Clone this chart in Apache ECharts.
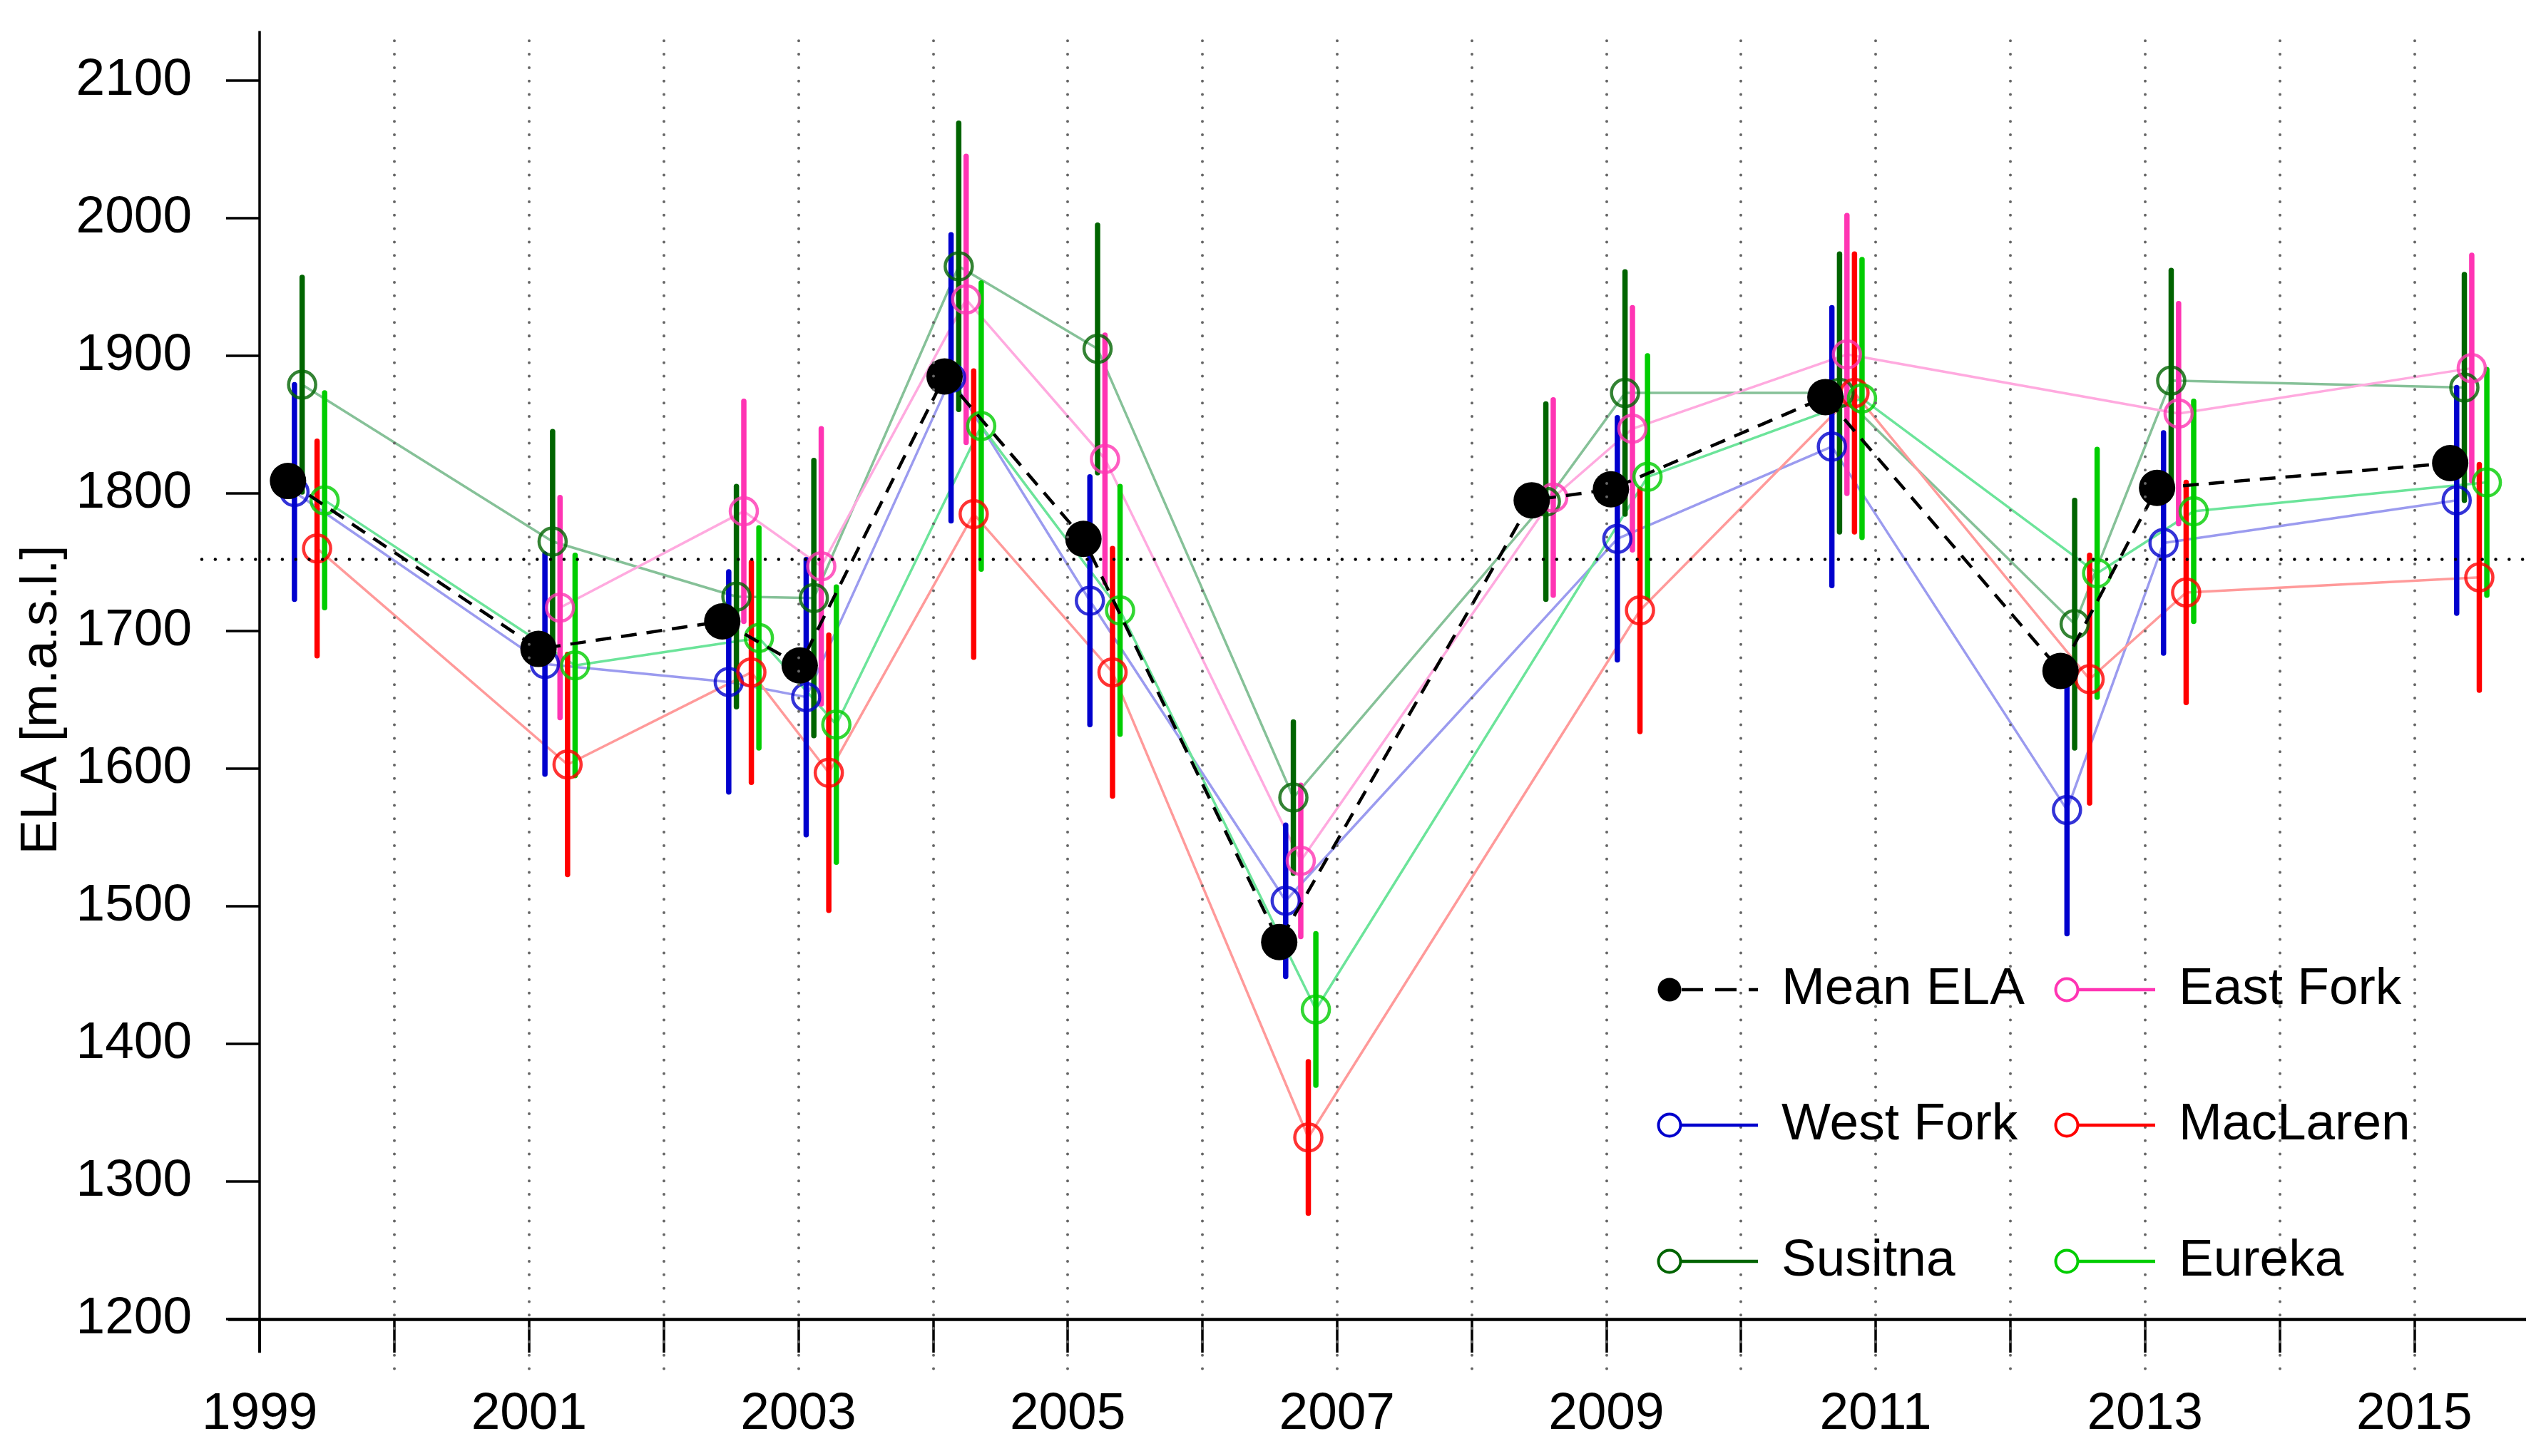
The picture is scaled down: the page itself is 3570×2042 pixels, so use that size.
<!DOCTYPE html>
<html>
<head>
<meta charset="utf-8">
<title>ELA</title>
<script src="https://cdn.jsdelivr.net/npm/echarts@6.0.0/dist/echarts.min.js"></script>
<style>html,body{margin:0;padding:0;background:#fff;}</style>
</head>
<body>
<div id="main" style="width:3570px;height:2042px;"></div>
<script type="text/javascript">
var obsDates = [1999.21, 2001.07, 2002.435, 2003.01, 2004.086, 2005.117, 2006.571,
                2008.446, 2009.034, 2010.627, 2012.373, 2013.09, 2015.267];
var meanEla  = [1809, 1687, 1707, 1675, 1885, 1767, 1474, 1795, 1803, 1870, 1671, 1804, 1822];
var westFork = [1801, 1676, 1663, 1652, 1884, 1722, 1504, null, 1767, 1834, 1570, 1764, 1795];
var susitna  = [1879, 1765, 1725, 1724, 1965, 1905, 1579, 1794, 1873, 1873, 1705, 1882, 1877];
var eastFork = [null, 1717, 1787, 1747, 1941, 1825, 1533, 1797, 1847, 1901, null, 1858, 1891];
var macLaren = [1760, 1603, 1670, 1597, 1785, 1670, 1332, null, 1715, 1873, 1665, 1728, 1739];
var eureka   = [1795, 1675, 1695, 1632, 1849, 1715, 1425, null, 1812, 1869, 1742, 1787, 1808];
// uncertainty (+/-) of each group
var elaErr   = [78, 80, 80, 100, 104, 90, 55, 71, 88, 101, 90, 80, 82];
var refEla = 1752;

var yTicks = [1200, 1300, 1400, 1500, 1600, 1700, 1800, 1900, 2000, 2100];
var xTicks = [1999, 2000, 2001, 2002, 2003, 2004, 2005, 2006, 2007, 2008, 2009, 2010, 2011, 2012, 2013, 2014, 2015];
var xLabels = [1999, 2001, 2003, 2005, 2007, 2009, 2011, 2013, 2015];

var FONT = '"Liberation Sans", Arial, Helvetica, sans-serif';

var glaciers = [
    {name: 'West Fork', values: westFork, color: '#0000CD', line: '#9b9bef', dodge: 0.048},
    {name: 'Susitna',   values: susitna,  color: '#006400', line: '#86c198', dodge: 0.105},
    {name: 'East Fork', values: eastFork, color: '#FF34B3', line: '#ffaadf', dodge: 0.160},
    {name: 'MacLaren',  values: macLaren, color: '#FF0000', line: '#ff9a9a', dodge: 0.216},
    {name: 'Eureka',    values: eureka,   color: '#00CD00', line: '#6ce49a', dodge: 0.272}
];

function points(values, dodge) {
    var out = [];
    for (var i = 0; i < obsDates.length; i++) {
        if (values[i] == null) continue;
        out.push([obsDates[i] + dodge, values[i], elaErr[i]]);
    }
    return out;
}

function errorBar(color) {
    return function (params, api) {
        var x = api.value(0), v = api.value(1), e = api.value(2);
        var p1 = api.coord([x, v + e]);
        var p2 = api.coord([x, v - e]);
        return {
            type: 'line',
            shape: {x1: p1[0], y1: p1[1], x2: p2[0], y2: p2[1]},
            style: {stroke: color, lineWidth: 7.5, lineCap: 'round'}
        };
    };
}

// dotted year lines, axis lines and reference ELA
var gridMarks = [];
xTicks.forEach(function (y) {
    if (y === 1999) return;
    gridMarks.push({xAxis: y, lineStyle: {color: '#666', width: 4, type: [0.01, 18.8], cap: 'round'}});
});
gridMarks.push({yAxis: refEla, lineStyle: {color: '#000', width: 4.5, type: [0.01, 18.8], cap: 'round'}});
gridMarks.push([{coord: [1999, 1175.5], lineStyle: {color: '#000', width: 3.5, type: 'solid'}}, {coord: [1999, 2136]}]);
gridMarks.push([{coord: [1998.765, 1200], lineStyle: {color: '#000', width: 4.5, type: 'solid'}}, {coord: [2015.83, 1200]}]);

var series = [];
glaciers.forEach(function (g, k) {
    var line = {
        name: g.name, type: 'line', z: 1,
        data: points(g.values, g.dodge),
        symbol: 'none',
        lineStyle: {color: g.line, width: 3.5},
        silent: true
    };
    if (k === 0) {
        line.markLine = {
            silent: true, symbol: ['none', 'none'], label: {show: false},
            animation: false, data: gridMarks
        };
    }
    series.push(line);
});
glaciers.forEach(function (g) {
    series.push({
        name: g.name + ' err', type: 'custom', z: 2,
        renderItem: errorBar(g.color),
        encode: {x: 0, y: 1},
        data: points(g.values, g.dodge),
        silent: true
    });
});
glaciers.forEach(function (g) {
    series.push({
        name: g.name + ' pts', type: 'scatter', z: 3,
        data: points(g.values, g.dodge),
        symbol: 'circle', symbolSize: 38,
        itemStyle: {color: 'rgba(0,0,0,0)', borderColor: g.color, borderWidth: 4.5},
        silent: true
    });
});
series.push({
    name: 'Mean ELA', type: 'line', z: 4,
    data: points(meanEla, 0),
    symbol: 'circle', symbolSize: 51, showSymbol: true,
    itemStyle: {color: '#000'},
    lineStyle: {color: '#000', width: 4.5, type: [22, 14]},
    silent: true
});

// legend, two columns of three
var legendItems = [
    {name: 'Mean ELA', color: '#000', mean: true},
    {name: 'West Fork', color: '#0000CD'},
    {name: 'Susitna', color: '#006400'},
    {name: 'East Fork', color: '#FF34B3'},
    {name: 'MacLaren', color: '#FF0000'},
    {name: 'Eureka', color: '#00CD00'}
];
var legX = [2341, 2898], legY = [1388, 1578, 1769];
var graphics = [];
legendItems.forEach(function (it, i) {
    var cx = legX[Math.floor(i / 3)], cy = legY[i % 3];
    graphics.push({
        type: 'line', z: 100,
        shape: {x1: cx + 17, y1: cy, x2: cx + 124, y2: cy},
        style: {stroke: it.color, lineWidth: 4.5, lineDash: it.mean ? [30, 17] : null}
    });
    graphics.push({
        type: 'circle', z: 101,
        shape: {cx: cx, cy: cy, r: it.mean ? 16.5 : 15.5},
        style: it.mean ? {fill: '#000'} : {fill: 'none', stroke: it.color, lineWidth: 4}
    });
    graphics.push({
        type: 'text', z: 101, x: cx + 157, y: cy,
        style: {text: it.name, fill: '#000', fontSize: 73, fontFamily: FONT, align: 'left', verticalAlign: 'middle'}
    });
});

function plain(v) { return String(v); }

var myChart = echarts.init(document.getElementById('main'));
var option = {
    animation: false,
    backgroundColor: '#fff',
    textStyle: {fontFamily: FONT},
    grid: {left: 283, right: 28, top: 43.5, bottom: 122.5, outerBoundsMode: 'none'},
    xAxis: {
        type: 'value', min: 1998.57, max: 2015.83,
        offset: -69.5,
        axisLine: {show: false},
        axisTick: {show: true, customValues: xTicks, length: 47, lineStyle: {color: '#000', width: 3.5}},
        axisLabel: {customValues: xLabels, formatter: plain, fontSize: 73, color: '#000', margin: 97, fontFamily: FONT},
        splitLine: {show: false}
    },
    yAxis: {
        type: 'value', min: 1164, max: 2136,
        offset: -81,
        name: 'ELA [m.a.s.l.]', nameLocation: 'middle', nameGap: 222,
        nameTextStyle: {fontSize: 73, color: '#000', fontFamily: FONT},
        axisLine: {show: false},
        axisTick: {show: true, customValues: yTicks, length: 47, lineStyle: {color: '#000', width: 3.5}},
        axisLabel: {customValues: yTicks, formatter: plain, fontSize: 73, color: '#000', margin: 95, fontFamily: FONT},
        splitLine: {show: false}
    },
    series: series,
    graphic: graphics
};
myChart.setOption(option);
</script>
</body>
</html>
